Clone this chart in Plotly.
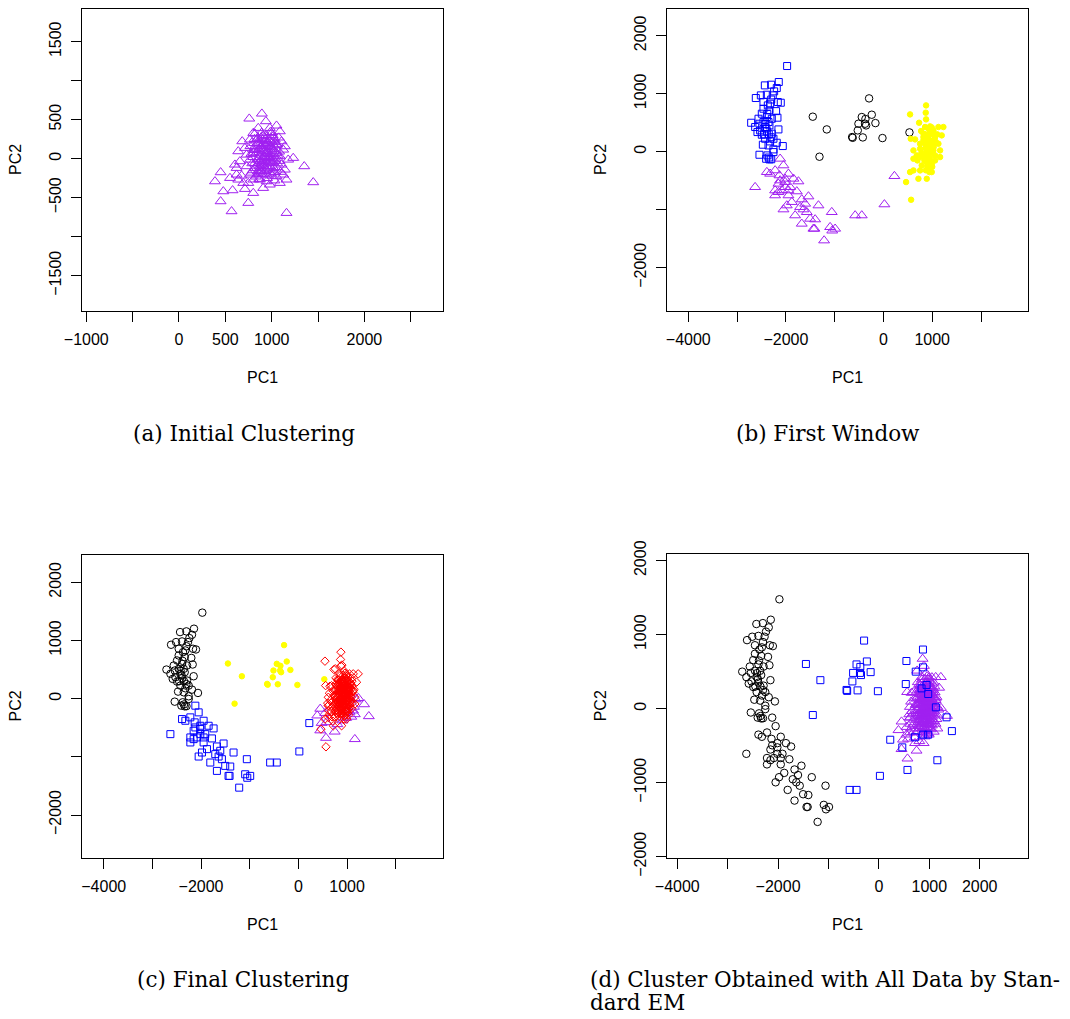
import plotly.graph_objects as go

# page body adds an 8px margin, so the figure is drawn 8px smaller and all pixel positions shifted
OFF = 8
W, H = 1070 - OFF, 1019 - OFF

# ---------------- data (PC1, PC2) ----------------
# upper-left arc
ua_x = [-1974, -2145, -2431, -2302, -2186, -2616, -2513, -2390, -2268, -2165, -2104, -2459, -2370, -2336,
        -2493, -2390, -2172, -2711, -2629, -2541, -2459, -2336, -2152, -2582, -2493, -2390, -2288, -2425,
        -2322, -2186, -2063, -2472, -2254, -2541, -2404, -2336, -2254, -2377, -2527, -2425, -2356, -2288,
        -2459, -2240, -2322, -2561, -2254, -2356, -2400, -2350, -2300, -2420, -2380, -2300, -2200, -2450,
        -2350, -2300]
ua_y = [1478, 1202, 1144, 1156, 1098, 926, 972, 983, 972, 857, 845, 857, 799, 713,
        656, 598, 587, 500, 426, 483, 512, 454, 385, 339, 293, 351, 311, 224,
        178, 155, 98, 121, 40, -52, -121, -132, -6, -63, 368, 426, 512, 569,
        742, 1041, 828, 569, 224, 109, 400, 300, 250, 480, 650, 900, 700, 300,
        -100, -130]

# lower arc (main part)
la_x = [-2630, -2390, -2322, -2117, -2049, -2220, -2131, -2015, -1947, -1844, -1742, -2152, -2015, -2220,
        -2084, -1947, -1776, -2220, -1878, -1981, -2049, -1674, -1537, -1605, -1332, -1639, -1571, -1810,
        -1674, -1503, -1400, -1435, -1059, -1093, -990, -1216, -2152, -2015, -1913, -1947, -1708, -2117,
        -1050, -1414]
la_y = [-610, -351, -380, -121, -236, -322, -408, -466, -380, -466, -512, -552, -610, -667,
        -667, -667, -684, -753, -868, -926, -995, -822, -771, -897, -926, -995, -1041, -1098,
        -1242, -1156, -1167, -1328, -1041, -1300, -1328, -1530, -696, -523, -610, -753, -954, -495,
        -1360, -1328]

# lower arc (tail toward the right)
lt_x = [-580, -444, 225, 20]
lt_y = [-1098, -1098, -420, -908]

# middle group
m_x = [-1448, -1161, -1311, -642, -630, -423, -512, -526, -444, -369, -376, -355, -294, -239, -164, -20, 533]
m_y = [604, 385, -86, 253, 240, 247, 483, 368, 598, 564, 483, 454, 920, 638, 494, 236, 333]

# first-window right group
w_x = [874, 867, 546, 874, 731, 956, 1127, 1229, 772, 1024, 1195, 560, 649, 820, 922, 1059, 854, 1127,
       956, 751, 615, 1024, 888, 1161, 683, 785, 1059, 1161, 956, 697, 888, 785, 990, 922, 615, 546,
       751, 464, 717, 888, 990, 942, 567, 922, 820, 922, 1024, 820, 615, 1059, 854, 956, 751,
       850, 900, 950, 1000, 1050, 880, 930, 980, 1030, 1080, 860, 910, 960, 1010, 840, 900, 950, 1000,
       870, 920, 820, 780, 1100, 990, 860]
w_y = [799, 673, 644, 558, 500, 437, 426, 426, 357, 368, 282, 224, 213, 253, 282, 253, 138, 138,
       109, 52, 23, 23, -6, 23, -63, -92, -63, -92, -121, -150, -178, -236, -207, -276, -322, -351,
       -322, -523, -466, -466, -351, -351, -828, 196, -63, -35, 138, 311, -121, -150, 426, 196, 138,
       300, 250, 350, 300, 200, 180, 60, 0, 80, 160, -40, -100, -200, -30, -150, -250, -300, -260,
       -320, 400, 200, -20, 300, 420, 60]

# initial cluster: core part
ac_x = [758, 894, 937, 1052, 1088, 682, 765, 621, 693, 639, 675, 765, 855, 945, 1034, 1106, 1016,
        927, 855, 801, 729, 657, 603, 729, 819, 891, 980, 1052, 1124, 980, 891, 837, 909, 999, 1034,
        1106, 1142, 801, 855, 980, 711, 639, 765, 945, 873, 819, 927, 1016, 1088, 962, 891, 801, 873,
        945, 747, 621, 711, 850, 900, 950, 1000, 880, 930, 980, 830, 870, 920, 960, 1010, 900,
        780, 820, 860, 900, 940, 980, 1020, 1060, 800, 840, 880, 920, 960, 1000, 1040, 1080,
        770, 810, 850, 890, 930, 970, 1010, 1050, 790, 830, 870, 910, 950, 990, 1030,
        860, 900, 940, 980, 1020, 880, 920, 960, 1000,
        795, 835, 875, 915, 955, 995, 1035, 1075, 815, 855, 895, 935, 975, 1015, 1055, 1095,
        805, 845, 885, 925, 965, 1005, 1045, 1085, 865, 905, 945, 985, 1025, 1065,
        780, 820, 860, 900, 940, 980, 1020, 1060]
ac_y = [513, 577, 479, 423, 350, 222, 244, -120, -312, -269, -218, -205, -162, -205, -175, -77, -13,
        30, -13, 73, 51, -34, -77, -98, -56, -77, -98, 73, 115, 158, 158, 244, 286, 329, 244,
        222, 158, 329, 393, 393, 137, 94, -13, 94, 51, 158, 222, 180, 30, 9, -162, -269, -269,
        -291, -312, -205, -389, 0, 100, 200, -50, -150, 250, 60, 120, -100, 20, -30, 280, 180,
        -180, -120, -60, -200, -140, -40, -120, -60, 20, 80, 140, -10, 60, 120, 0, 90,
        160, 200, 260, 330, 180, 240, 300, 180, -60, -230, -180, -90, -250, -190, -280,
        200, 240, 300, 20, 60, -120, 100, -60, 220,
        -150, -90, -30, 30, 90, 150, 210, 270, 250, 190, 130, 70, 10, -50, -110, -170,
        110, -200, 270, -160, 200, -220, 130, -30, -260, 300, -100, 340, -170, 40,
        60, 320, 120, -40, 160, -140, 100, 180]

# initial cluster: edge part
ae_x = [1232, 1351, 1448, 1160, 1088, 1160, 1142, 388, 449, 478, 449, 567, 747, 578, 801, 550, 980, 908,
        1124, 1052, 1178]
ae_y = [9, -98, -303, -697, -312, -269, -141, -291, -175, -419, -547, -675, -568, -406, -440, -248, -333, -376,
        -205, -227, -13]

# extra points assigned to the square cluster by standard EM
dx_x = [874, 546, 731, 874, 567, 464, 1448, 1160, 846, 945, 978, 1130, 1342, 714, 879, 978]
dx_y = [799, 644, 500, 558, -828, -523, -303, -697, 274, 320, 198, 18, -117, -387, -351, -351]

# tick labels
a_xt = [-1000, -500, 0, 500, 1000, 1500, 2000, 2500]
a_xl = ["\u22121000", "", "0", "500", "1000", "", "2000", ""]
a_yt = [-1500, -1000, -500, 0, 500, 1000, 1500]
a_yl = ["\u22121500", "", "\u2212500", "0", "500", "", "1500"]
bc_xt = [-4000, -3000, -2000, -1000, 0, 1000, 2000]
bc_xl = ["\u22124000", "", "\u22122000", "", "0", "1000", ""]
d_xl = ["\u22124000", "", "\u22122000", "", "0", "1000", "2000"]
bcd_yt = [-2000, -1000, 0, 1000, 2000]
bc_yl = ["\u22122000", "", "0", "1000", "2000"]
d_yl = ["\u22122000", "\u22121000", "0", "1000", "2000"]

captions = ["(a) Initial Clustering", "(b) First Window", "(c) Final Clustering",
            "(d) Cluster Obtained with All Data by Stan-", "dard EM"]

PURPLE, BLUE, BLACK, YELLOW, RED = "#A020F0", "#0000FF", "#000000", "#FFFF00", "#FF0000"

# ---------------- layout helpers (pixel positions in the 1070x1019 page) ----------------
panels = {
    1: dict(px=(82.3, 443.3), py=(8.6, 310.7), xr=(-1043, 2851), yr=(-1949, 1924),
            xt=a_xt, xl=a_xl, yt=a_yt, yl=a_yl),
    2: dict(px=(667.3, 1027.7), py=(8.6, 310.7), xr=(-4430, 2957), yr=(-2741, 2468),
            xt=bc_xt, xl=bc_xl, yt=bcd_yt, yl=bc_yl),
    3: dict(px=(82.3, 443.3), py=(554.7, 857.7), xr=(-4440, 2978), yr=(-2734, 2474),
            xt=bc_xt, xl=bc_xl, yt=bcd_yt, yl=bc_yl),
    4: dict(px=(667.3, 1027.7), py=(554.3, 857.7), xr=(-4198, 2952), yr=(-2014, 2086),
            xt=bc_xt, xl=d_xl, yt=bcd_yt, yl=d_yl),
}


def fx(px):
    return min(1.0, max(0.0, (px - OFF) / W))


def fy(py):
    return min(1.0, max(0.0, 1 - (py - OFF) / H))


fig = go.Figure()


def add(i, xs, ys, symbol, color, size):
    sfx = "" if i == 1 else str(i)
    fig.add_trace(go.Scatter(
        x=xs, y=ys, mode="markers", xaxis="x" + sfx, yaxis="y" + sfx, showlegend=False,
        hoverinfo="skip", cliponaxis=True,
        marker=dict(symbol=symbol, color=color, size=size,
                    line=dict(color=color, width=1))))


TRI, SQ, CIR, DIA, DOT = "triangle-up-open", "square-open", "circle-open", "diamond-open", "circle"
S_TRI, S_SQ, S_CIR, S_DIA, S_DOT = 9.5, 7, 7.5, 6.5, 5.5

# (a)
add(1, ac_x + ae_x, ac_y + ae_y, TRI, PURPLE, S_TRI)
# (b)
add(2, la_x + lt_x, la_y + lt_y, TRI, PURPLE, S_TRI)
add(2, ua_x, ua_y, SQ, BLUE, S_SQ)
add(2, m_x, m_y, CIR, BLACK, S_CIR)
add(2, w_x, w_y, DOT, YELLOW, S_DOT)
# (c)
add(3, ua_x, ua_y, CIR, BLACK, S_CIR)
add(3, la_x + lt_x, la_y + lt_y, SQ, BLUE, S_SQ)
add(3, m_x, m_y, DOT, YELLOW, S_DOT)
add(3, ae_x, ae_y, TRI, PURPLE, S_TRI)
add(3, w_x + ac_x, w_y + ac_y, DIA, RED, S_DIA)
# (d)
moved = set(zip(dx_x, dx_y))
pur = [(x, y) for x, y in zip(ac_x + ae_x + w_x, ac_y + ae_y + w_y) if (x, y) not in moved]
add(4, ua_x + la_x, ua_y + la_y, CIR, BLACK, S_CIR)
add(4, [p[0] for p in pur], [p[1] for p in pur], TRI, PURPLE, S_TRI)
add(4, m_x + lt_x + dx_x, m_y + lt_y + dx_y, SQ, BLUE, S_SQ)

tickfont = dict(family="Liberation Sans, Arial, sans-serif", size=16, color="black")
layout = dict(width=W, height=H, margin=dict(l=0, r=0, t=0, b=0, autoexpand=False),
              template="none",
              paper_bgcolor="white", plot_bgcolor="white", showlegend=False)
annotations = []
for i, p in panels.items():
    sfx = "" if i == 1 else str(i)
    x0, x1 = p["px"]
    y0, y1 = p["py"]
    common = dict(showgrid=False, zeroline=False, showline=True, mirror=True, linecolor="black",
                  linewidth=1, ticks="outside", ticklen=10, tickwidth=1, tickcolor="black",
                  tickfont=tickfont, tickmode="array", ticklabelstandoff=4, automargin=False)
    layout["xaxis" + sfx] = dict(common, domain=[fx(x0), fx(x1)], range=list(p["xr"]),
                                 tickvals=p["xt"], ticktext=p["xl"], anchor="y" + sfx, tickangle=0)
    layout["yaxis" + sfx] = dict(common, domain=[fy(y1), fy(y0)], range=list(p["yr"]),
                                 tickvals=p["yt"], ticktext=p["yl"], anchor="x" + sfx, tickangle=-90)
    cx = (x0 + x1) / 2
    cy = (y0 + y1) / 2
    annotations.append(dict(text="PC1", x=fx(cx), y=fy(y1 + 67), xref="paper", yref="paper",
                            xanchor="center", yanchor="middle", showarrow=False, font=tickfont))
    annotations.append(dict(text="PC2", x=fx(x0 - 67), y=fy(cy), xref="paper", yref="paper",
                            xanchor="center", yanchor="middle", showarrow=False, font=tickfont,
                            textangle=-90))

capfont = dict(family="DejaVu Serif, serif", size=21.5, color="black")
cap_pos = [(244, 433, "center"), (828, 433, "center"), (243, 979, "center"),
           (588, 979, "left"), (588, 1002, "left")]
for txt, (cx, cy, anc) in zip(captions, cap_pos):
    annotations.append(dict(text=txt, x=fx(cx), y=fy(cy), xref="paper", yref="paper",
                            xanchor=anc, yanchor="middle", showarrow=False, font=capfont))

layout["annotations"] = annotations
fig.update_layout(**layout)
fig.write_html("out.html")
